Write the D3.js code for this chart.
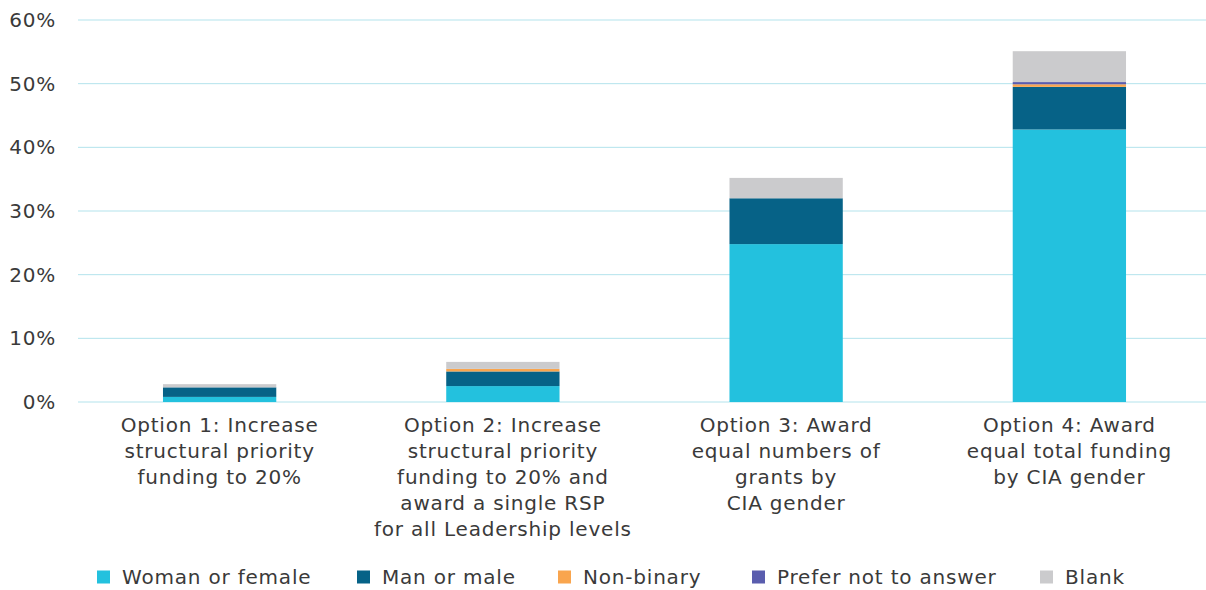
<!DOCTYPE html>
<html>
<head>
<meta charset="utf-8">
<script src="https://cdn.jsdelivr.net/npm/d3@7"></script>
<style>
  body { margin: 0; background: #fff; }
  text { font-family: "DejaVu Sans", sans-serif; fill: #3a3a3a; letter-spacing: 0.8px; }
</style>
</head>
<body>
<svg id="chart" width="1206" height="590"></svg>
<script>
// categories (x labels, split into lines)
var categories = [
  ["Option 1: Increase", "structural priority", "funding to 20%"],
  ["Option 2: Increase", "structural priority", "funding to 20% and", "award a single RSP", "for all Leadership levels"],
  ["Option 3: Award", "equal numbers of", "grants by", "CIA gender"],
  ["Option 4: Award", "equal total funding", "by CIA gender"]
];
var seriesNames = ["Woman or female", "Man or male", "Non-binary", "Prefer not to answer", "Blank"];
var woman = [0.8, 2.5, 24.8, 42.8];
var man = [1.5, 2.3, 7.2, 6.7];
var nonBinary = [0, 0.4, 0, 0.4];
var preferNot = [0, 0, 0, 0.35];
var blank = [0.5, 1.1, 3.2, 4.85];
var yTicks = [0, 10, 20, 30, 40, 50, 60];

var COLOR = ["#23c1de", "#066287", "#f9a54e", "#5a5dae", "#cbcbcd"];

var svg = d3.select("#chart");
var margin = { top: 20, right: 0, bottom: 188, left: 78 };
var width = 1133;
var height = 382;

var g = svg.append("g").attr("transform", "translate(" + margin.left + "," + margin.top + ")");

var x = d3.scaleBand().domain(d3.range(categories.length)).range([0, width]).paddingInner(0.6).paddingOuter(0.3);
var y = d3.scaleLinear().domain([0, 60]).range([height, 0]);

// gridlines
g.selectAll(".grid")
  .data(yTicks)
  .enter()
  .append("line")
  .attr("class", "grid")
  .attr("x1", 0)
  .attr("x2", 1206 - margin.left)
  .attr("y1", function (d) { return y(d); })
  .attr("y2", function (d) { return y(d); })
  .style("stroke", "#b3e3ec")
  .style("stroke-width", 1);

// y labels
g.selectAll(".ylab")
  .data(yTicks)
  .enter()
  .append("text")
  .attr("class", "ylab")
  .attr("x", -22)
  .attr("y", function (d) { return y(d); })
  .attr("dy", "0.35em")
  .attr("text-anchor", "end")
  .style("font-size", "20px")
  .text(function (d) { return d + "%"; });

// stacked data
var rows = categories.map(function (c, i) {
  return { i: i, s0: woman[i], s1: man[i], s2: nonBinary[i], s3: preferNot[i], s4: blank[i] };
});
var stack = d3.stack().keys(["s0", "s1", "s2", "s3", "s4"]);
var layers = stack(rows);

g.selectAll(".layer")
  .data(layers)
  .enter()
  .append("g")
  .attr("class", "layer")
  .style("fill", function (d, k) { return COLOR[k]; })
  .selectAll("rect")
  .data(function (d) { return d; })
  .enter()
  .append("rect")
  .attr("x", function (d) { return x(d.data.i); })
  .attr("y", function (d) { return y(d[1]); })
  .attr("width", x.bandwidth())
  .attr("height", function (d) { return y(d[0]) - y(d[1]); });

// x labels
var xl = g.selectAll(".xlab")
  .data(categories)
  .enter()
  .append("text")
  .attr("class", "xlab")
  .attr("text-anchor", "middle")
  .style("font-size", "20px")
  .attr("transform", function (d, i) { return "translate(" + (x(i) + x.bandwidth() / 2) + "," + (height + 30) + ")"; });

xl.selectAll("tspan")
  .data(function (d) { return d; })
  .enter()
  .append("tspan")
  .attr("x", 0)
  .attr("y", function (d, j) { return j * 26; })
  .text(function (d) { return d; });

// legend
var legendX = [97, 357, 558, 752, 1040];
var legend = svg.selectAll(".legend")
  .data(seriesNames)
  .enter()
  .append("g")
  .attr("class", "legend")
  .attr("transform", function (d, k) { return "translate(" + legendX[k] + ",577)"; });

legend.append("rect")
  .attr("x", 0)
  .attr("y", -6.5)
  .attr("width", 13)
  .attr("height", 13)
  .style("fill", function (d, k) { return COLOR[k]; });

legend.append("text")
  .attr("x", 25)
  .attr("y", 0)
  .attr("dy", "0.35em")
  .style("font-size", "20px")
  .text(function (d) { return d; });
</script>
</body>
</html>
